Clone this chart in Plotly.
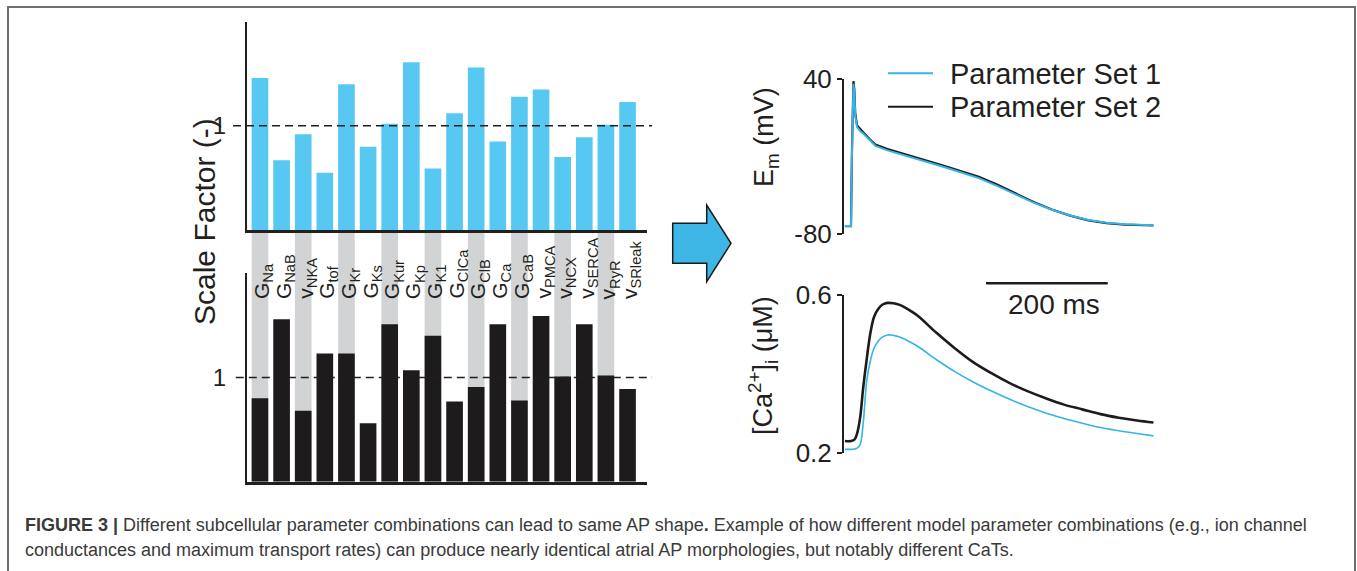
import plotly.graph_objects as go

# ---------------- data ----------------
categories = ["G<sub>Na</sub>", "G<sub>NaB</sub>", "v<sub>NKA</sub>", "G<sub>tof</sub>", "G<sub>Kr</sub>",
              "G<sub>Ks</sub>", "G<sub>Kur</sub>", "G<sub>Kp</sub>", "G<sub>K1</sub>", "G<sub>ClCa</sub>",
              "G<sub>ClB</sub>", "G<sub>Ca</sub>", "G<sub>CaB</sub>", "v<sub>PMCA</sub>", "v<sub>NCX</sub>",
              "v<sub>SERCA</sub>", "v<sub>RyR</sub>", "v<sub>SRleak</sub>"]
set1_scale = [1.46, 0.67, 0.92, 0.55, 1.40, 0.80, 1.02, 1.61, 0.59, 1.12,
              1.56, 0.85, 1.28, 1.35, 0.70, 0.89, 1.01, 1.23]
set2_scale = [0.80, 1.56, 0.68, 1.23, 1.23, 0.56, 1.51, 1.07, 1.40, 0.77,
              0.91, 1.51, 0.78, 1.59, 1.01, 1.51, 1.02, 0.89]

t_em = [0, 10, 11.5, 13, 14, 15.5, 17, 20, 25, 30, 40, 50, 70, 100, 130, 160, 190,
        220, 250, 280, 310, 340, 370, 400, 430, 460, 490, 507]
em_set1 = [-73.6, -73.6, -20, 30, 36.5, 30, 12, 3, 0, -2, -7, -11.5, -15, -19, -23.5, -27.5, -32,
           -36.5, -42.5, -49, -55.5, -61, -65.5, -69, -71, -72.2, -72.7, -72.9]
em_set2 = [-73.6, -73.6, -18, 32, 38.5, 32, 13.5, 4.2, 1.2, -1, -6, -10.5, -14, -18, -22.5, -26.5, -31,
           -35.5, -41.5, -48.2, -55, -60.8, -65.5, -69.2, -71.3, -72.5, -73, -73.2]

t_ca = [0, 10, 16, 20, 25, 30, 36, 42, 48, 55, 62, 70, 80, 90, 100, 120, 150, 180, 210,
        240, 270, 300, 330, 360, 390, 420, 450, 480, 507]
ca_set1 = [0.210, 0.210, 0.211, 0.213, 0.222, 0.275, 0.385, 0.435, 0.466, 0.484, 0.494, 0.499,
           0.498, 0.494, 0.487, 0.470, 0.437, 0.407, 0.381, 0.358, 0.337, 0.318, 0.302, 0.288,
           0.276, 0.265, 0.257, 0.250, 0.244]
ca_set2 = [0.231, 0.231, 0.235, 0.250, 0.290, 0.365, 0.440, 0.505, 0.545, 0.565, 0.576, 0.580,
           0.579, 0.575, 0.567, 0.547, 0.505, 0.466, 0.431, 0.403, 0.378, 0.357, 0.339, 0.323,
           0.311, 0.299, 0.290, 0.283, 0.278]

em_ticks = [-80, 40]
ca_ticks = [0.2, 0.6]
scale_bar_ms = 200
series_names = ["Parameter Set 1", "Parameter Set 2"]

caption_line1 = ("<b>FIGURE 3 |</b> Different subcellular parameter combinations can lead to same AP shape<b>.</b> "
                 "Example of how different model parameter combinations (e.g., ion channel")
caption_line2 = ("conductances and maximum transport rates) can produce nearly identical atrial AP "
                 "morphologies, but notably different CaTs.")

# ---------------- style / layout helpers ----------------
W, H = 1357, 571
FONT = "Arial, 'Liberation Sans', Helvetica, sans-serif"
BLUE_BAR = "#56c8f2"
BLUE_LINE = "#33b5e8"
BLACK = "#1e1b1c"
GRAY = "#d1d3d4"
AX = "#231f20"


def px(x):
    return x / W


def py(y):
    return 1 - y / H


bar_x_dom = [px(247), px(647)]
bar_x_range = [-0.6, 17.9]
trace_x_dom = [px(844), px(1158.6)]
trace_x_range = [-1.5, 515.5]

fig = go.Figure()

# gray background columns (every other parameter), spanning between both bar panels
fig.add_trace(go.Bar(x=categories[::2], y=[1] * len(categories[::2]), marker_color=GRAY,
                     marker_line_width=0, xaxis="x", yaxis="y", width=0.77, hoverinfo="skip",
                     showlegend=False))
# parameter set 1 scale factors
fig.add_trace(go.Bar(x=categories, y=set1_scale, marker_color=BLUE_BAR, marker_line_width=0,
                     xaxis="x2", yaxis="y2", width=0.77, name=series_names[0], showlegend=False))
# parameter set 2 scale factors
fig.add_trace(go.Bar(x=categories, y=set2_scale, marker_color=BLACK, marker_line_width=0,
                     xaxis="x3", yaxis="y3", width=0.77, name=series_names[1], showlegend=False))
# membrane potential
fig.add_trace(go.Scatter(x=t_em, y=em_set2, mode="lines", line=dict(color=BLACK, width=2.2),
                         xaxis="x4", yaxis="y4", name=series_names[1], showlegend=False))
fig.add_trace(go.Scatter(x=t_em, y=em_set1, mode="lines", line=dict(color=BLUE_LINE, width=2),
                         xaxis="x4", yaxis="y4", name=series_names[0], showlegend=False))
# calcium transient
fig.add_trace(go.Scatter(x=t_ca, y=ca_set2, mode="lines", line=dict(color=BLACK, width=2.6, shape="spline"),
                         xaxis="x5", yaxis="y5", name=series_names[1], showlegend=False))
fig.add_trace(go.Scatter(x=t_ca, y=ca_set1, mode="lines", line=dict(color=BLUE_LINE, width=1.6, shape="spline"),
                         xaxis="x5", yaxis="y5", name=series_names[0], showlegend=False))

cat_axis = dict(categoryorder="array", categoryarray=categories, range=bar_x_range,
                showticklabels=False, ticks="", showgrid=False, zeroline=False, fixedrange=True,
                automargin=False)
num_y = dict(showgrid=False, zeroline=False, automargin=False)

fig.update_layout(
    template="none",
    width=W, height=H, autosize=False,
    margin=dict(l=0, r=0, t=0, b=0, pad=0, autoexpand=False),
    paper_bgcolor="white", plot_bgcolor="rgba(0,0,0,0)",
    font=dict(family=FONT, color=AX), showlegend=False, barmode="overlay",
    xaxis=dict(domain=bar_x_dom, anchor="y", showline=False, **cat_axis),
    yaxis=dict(domain=[py(481.7), py(230)], anchor="x", range=[0, 1], visible=False, **num_y),
    xaxis2=dict(domain=bar_x_dom, anchor="y2", showline=True, linewidth=2.5, linecolor=AX, **cat_axis),
    yaxis2=dict(domain=[py(230), py(21.7)], anchor="x2", range=[0, 2], showline=True, linewidth=2.2,
                linecolor=AX, tickvals=[1], ticktext=["1"], ticks="",
                tickfont=dict(size=24, color=AX), ticklabelstandoff=14, **num_y),
    xaxis3=dict(domain=bar_x_dom, anchor="y3", showline=True, linewidth=2.5, linecolor=AX, **cat_axis),
    yaxis3=dict(domain=[py(481.7), py(273.3)], anchor="x3", range=[0, 2], showline=True, linewidth=2.2,
                linecolor=AX, tickvals=[1], ticktext=["1"], ticks="",
                tickfont=dict(size=24, color=AX), ticklabelstandoff=14, **num_y),
    xaxis4=dict(domain=trace_x_dom, anchor="y4", range=trace_x_range, visible=False, automargin=False),
    yaxis4=dict(domain=[py(234.3), py(79.3)], anchor="x4", range=[-80, 40], showline=True, linewidth=2,
                linecolor=AX, ticks="outside", ticklen=5, tickwidth=2, tickcolor=AX, tickvals=em_ticks,
                ticktext=[str(v) for v in em_ticks], tickfont=dict(size=26, color=AX), **num_y),
    xaxis5=dict(domain=trace_x_dom, anchor="y5", range=trace_x_range, visible=False, automargin=False),
    yaxis5=dict(domain=[py(453.3), py(295)], anchor="x5", range=[0.2, 0.6], showline=True, linewidth=2,
                linecolor=AX, ticks="outside", ticklen=5, tickwidth=2, tickcolor=AX, tickvals=ca_ticks,
                ticktext=[str(v) for v in ca_ticks], tickfont=dict(size=26, color=AX), **num_y),
)

shapes = [
    # figure frame
    dict(type="rect", xref="paper", yref="paper", x0=px(8), x1=px(1355), y0=-0.05, y1=py(7),
         line=dict(color="#6d6e71", width=2), fillcolor="rgba(0,0,0,0)", layer="below"),
    # reference lines at scale factor 1
    dict(type="line", xref="x2 domain", yref="y2", x0=-0.035, x1=1.0125, y0=1, y1=1,
         line=dict(color=AX, width=1.5, dash="8px,5px")),
    dict(type="line", xref="x3 domain", yref="y3", x0=-0.028, x1=1.0125, y0=1, y1=1,
         line=dict(color=AX, width=1.5, dash="8px,5px")),
    # arrow
    dict(type="path", xref="paper", yref="paper",
         path=f"M {px(672.7)},{py(223.3)} L {px(706.7)},{py(223.3)} L {px(706.7)},{py(205)} "
              f"L {px(731)},{py(243.3)} L {px(706.7)},{py(281.7)} L {px(706.7)},{py(263.3)} "
              f"L {px(672.7)},{py(263.3)} Z",
         fillcolor="#3fb7e6", line=dict(color="#1a1a1a", width=1.5)),
    # legend samples
    dict(type="line", xref="paper", yref="paper", x0=px(888), x1=px(933), y0=py(73.3), y1=py(73.3),
         line=dict(color=BLUE_LINE, width=2)),
    dict(type="line", xref="paper", yref="paper", x0=px(888), x1=px(933), y0=py(106.7), y1=py(106.7),
         line=dict(color=BLACK, width=2)),
    # time scale bar
    dict(type="line", xref="x5", yref="paper", x0=231.9, x1=231.9 + scale_bar_ms,
         y0=py(283.3), y1=py(283.3), line=dict(color=BLACK, width=2.5)),
]
fig.update_layout(shapes=shapes)

ann = []
# parameter labels
for c in categories:
    ann.append(dict(x=c, xref="x3", y=py(301), yref="paper", text=c, textangle=-90, showarrow=False,
                    xanchor="center", yanchor="bottom", xshift=3, font=dict(size=21, color=AX, family=FONT)))


def label(x, y, text, size, angle=0, xanchor="center"):
    return dict(x=px(x), y=py(y), xref="paper", yref="paper", text=text, textangle=angle,
                showarrow=False, xanchor=xanchor, yanchor="middle", font=dict(size=size, color=AX))


ann += [
    label(204, 222, "Scale Factor (-)", 30, -90),
    label(766, 137, "E<sub>m</sub> (mV)", 27, -90),
    label(763, 365, "[Ca<sup>2+</sup>]<sub>i</sub> (\u03bcM)", 27, -90),
    label(948, 74, series_names[0], 29, xanchor="left"),
    label(948, 107, series_names[1], 29, xanchor="left"),
    label(1054, 304, f"{scale_bar_ms} ms", 28),
]
cap1 = label(23, 525, caption_line1, 18, xanchor="left")
cap2 = label(23, 550, caption_line2, 18, xanchor="left")
cap1["font"]["color"] = "#3a3a3a"
cap2["font"]["color"] = "#3a3a3a"
ann += [cap1, cap2]
fig.update_layout(annotations=ann)

fig.write_html("out.html", config={"displayModeBar": False},
               post_script="document.body.style.margin='0px';")
